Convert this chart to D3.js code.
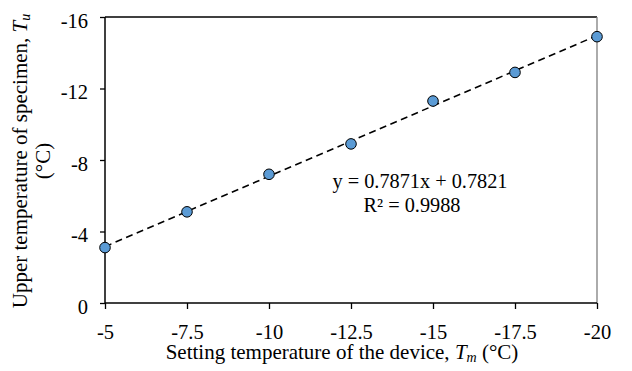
<!DOCTYPE html>
<html><head><meta charset="utf-8">
<script src="https://cdn.jsdelivr.net/npm/d3@7/dist/d3.min.js"></script>
<style>
html,body{margin:0;padding:0;background:#fff;}
svg text{font-family:"Liberation Serif","Times New Roman","DejaVu Serif",serif;}
</style></head>
<body>
<svg id="chart" width="632" height="371"></svg>
<script>
const settingTemps = [-5, -7.5, -10, -12.5, -15, -17.5, -20];
const upperTemps = [-3.1, -5.1, -7.2, -8.9, -11.3, -12.9, -14.9];
const xTicks = [-5, -7.5, -10, -12.5, -15, -17.5, -20];
const yTicks = [0, -4, -8, -12, -16];
const slope = 0.7871, intercept = 0.7821;
const eqLines = ["y = 0.7871x + 0.7821", "R² = 0.9988"];

const FONT = "'Liberation Serif','Times New Roman',serif";
const svg = d3.select("#chart");
const L = 105, R = 597, T = 17, B = 303;
const x = d3.scaleLinear().domain([-5, -20]).range([L, R]);
const y = d3.scaleLinear().domain([0, -16]).range([B, T]);

// top and right frame
svg.append("line").attr("x1", L).attr("x2", R).attr("y1", T).attr("y2", T)
  .attr("stroke", "#000").attr("stroke-width", 1.3);
svg.append("line").attr("x1", R).attr("x2", R).attr("y1", T).attr("y2", B)
  .attr("stroke", "#7f7f7f").attr("stroke-width", 1.3);

// axes
const xAxis = d3.axisBottom(x).tickValues(xTicks).tickSize(6).tickPadding(0).tickFormat(d => String(d));
const gx = svg.append("g").attr("transform", `translate(0,${B})`).call(xAxis)
  .attr("font-family", FONT).attr("font-size", 20.5);
gx.select(".domain").attr("stroke", "#000").attr("stroke-width", 1.5).attr("d", `M${L},0H${R}`);
gx.selectAll(".tick line").attr("stroke", "#000").attr("stroke-width", 1.3);
gx.selectAll(".tick text").attr("y", 36).attr("dy", null).attr("fill", "#000");

const yAxis = d3.axisLeft(y).tickValues(yTicks).tickSize(5).tickFormat(d => String(d));
const gy = svg.append("g").attr("transform", `translate(${L},0)`).call(yAxis)
  .attr("font-family", FONT).attr("font-size", 20.5);
gy.select(".domain").attr("stroke", "#000").attr("stroke-width", 1.5).attr("d", `M0,${T}V${B}`);
gy.selectAll(".tick line").attr("stroke", "#000").attr("stroke-width", 1.3);
gy.selectAll(".tick text").attr("x", -17).attr("dy", 10).attr("fill", "#000");

// trendline
const xs = d3.extent(settingTemps);
svg.append("line")
  .attr("x1", x(xs[1])).attr("y1", y(slope * xs[1] + intercept))
  .attr("x2", x(xs[0])).attr("y2", y(slope * xs[0] + intercept))
  .attr("stroke", "#000").attr("stroke-width", 1.6).attr("stroke-dasharray", "7,4.5");

// points
svg.selectAll("circle.pt").data(settingTemps).enter().append("circle")
  .attr("class", "pt")
  .attr("cx", d => x(d)).attr("cy", (d, i) => y(upperTemps[i])).attr("r", 5.3)
  .attr("fill", "#5B9BD5").attr("stroke", "#000").attr("stroke-width", 1);

// equation
svg.append("text").attr("x", 420).attr("y", 188).attr("text-anchor", "middle")
  .attr("font-size", 20.3).text(eqLines[0]);
svg.append("text").attr("x", 412).attr("y", 212).attr("text-anchor", "middle")
  .attr("font-size", 20.3).text(eqLines[1]);

// x title
const xt = svg.append("text").attr("x", 342).attr("y", 359).attr("text-anchor", "middle").attr("font-size", 21);
xt.append("tspan").text("Setting temperature of the device, ");
xt.append("tspan").attr("font-style", "italic").text("T");
xt.append("tspan").attr("font-style", "italic").attr("font-size", 14).attr("dy", 3).text("m");
xt.append("tspan").attr("dy", -3).text(" (°C)");

// y title
const yt = svg.append("g").attr("transform", "translate(27,161) rotate(-90)");
const y1 = yt.append("text").attr("x", 0).attr("y", 0).attr("text-anchor", "middle").attr("font-size", 21);
y1.append("tspan").text("Upper temperature of specimen, ");
y1.append("tspan").attr("font-style", "italic").text("T");
y1.append("tspan").attr("font-style", "italic").attr("font-size", 14).attr("dy", 3).text("u");
yt.append("text").attr("x", 0).attr("y", 23).attr("text-anchor", "middle").attr("font-size", 21).text("(°C)");
</script>
</body></html>
